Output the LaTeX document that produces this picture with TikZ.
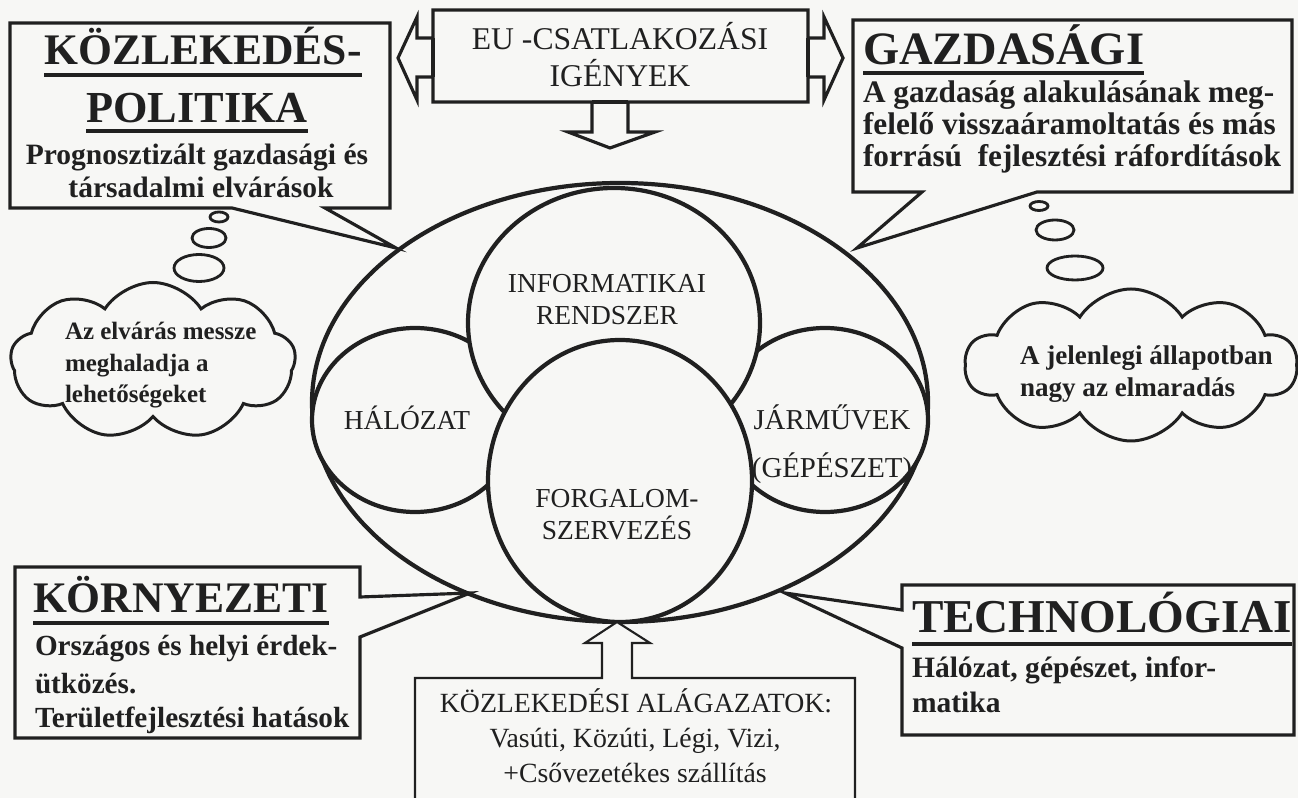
\documentclass[tikz,border=0pt]{standalone}
\usepackage{fontspec}
\setmainfont{Liberation Serif}
\usetikzlibrary{shapes.geometric,shapes.symbols,calc}
\newlength\px
\setlength\px{0.01cm}
\newcommand\fs[1]{\fontsize{#1}{#1}\selectfont}
\definecolor{paper}{RGB}{247,247,245}
\definecolor{ink}{RGB}{32,32,32}
\begin{document}
\begin{tikzpicture}[x=0.01cm, y=-0.01cm,
  lbl/.style={inner sep=0pt, outer sep=0pt, text=ink},
  boxline/.style={draw=ink, line width=0.9pt, line join=miter, fill=paper},
  thinline/.style={draw=ink, line width=0.6pt, line join=miter, fill=paper},
  ring/.style={draw=ink, line width=1.2pt, fill=paper, ellipse, inner sep=0pt},
  bubble/.style={draw=ink, line width=0.8pt, ellipse, inner sep=0pt},
  uline/.style={draw=ink, line width=0.9pt},
  title/.style={lbl, font={\bfseries\fs{12.4}}},
  sub/.style={lbl, font={\bfseries\fs{8.4}}},
  mid/.style={lbl, font={\fs{7.8}}},
]
\fill[paper] (0,0) rectangle (1298,798);
\path[use as bounding box] (0,0) rectangle (1298,798);

% ---------- central ellipse and the four overlapping circles ----------
\node[ring, minimum width=616\px, minimum height=439\px] (ell) at (620,402.5) {};
\node[ring, minimum width=206\px, minimum height=184\px] (hal) at (415,420) {};
\node[ring, minimum width=206\px, minimum height=184\px] (jar) at (825,420) {};
\node[ring, minimum width=292\px, minimum height=270\px] (inf) at (614,323) {};
\node[ring, minimum width=264\px, minimum height=282\px] (forg) at (620,481) {};

\node[mid, anchor=base] (infA) at (607,293) {INFORMATIKAI};
\node[mid, anchor=base] (infB) at (607,325) {RENDSZER};
\node[mid, anchor=base] (halA) at (407,430) {HÁLÓZAT};
\node[mid, anchor=base, font={\fs{8.2}}] (jarA) at (832,430) {JÁRMŰVEK};
\node[mid, anchor=base, font={\fs{8.2}}] (jarB) at (832,478) {(GÉPÉSZET)};
\node[mid, anchor=base] (forA) at (617,508) {FORGALOM-};
\node[mid, anchor=base] (forB) at (617,540) {SZERVEZÉS};

% ---------- tips of the speech tails on the ellipse ----------
\coordinate (tipKP) at (396,248);
\coordinate (tipGZ) at (857,248);
\coordinate (tipKR) at (470,593);
\coordinate (tipTE) at (785,593);

% ---------- KÖZLEKEDÉSPOLITIKA ----------
\draw[boxline] (10,23) -- (390,23) -- (390,208) -- (325,208) -- (tipKP)
  -- (232,208) -- (10,208) -- cycle;
\node[title, anchor=base] (kpT1) at (203,65) {KÖZLEKEDÉS-};
\draw[uline] ($(kpT1.base west)+(0,10)$) -- ($(kpT1.base east)+(0,10)$);
\node[title, anchor=base, font={\bfseries\fs{12.6}}] (kpT2) at (197,123) {POLITIKA};
\draw[uline] ($(kpT2.base west)+(0,8)$) -- ($(kpT2.base east)+(0,8)$);
\node[sub, anchor=base] (kpS1) at (197,165) {Prognosztizált gazdasági és};
\node[sub, anchor=base] (kpS2) at (201,198) {társadalmi elvárások};

% ---------- GAZDASÁGI ----------
\draw[boxline] (853,20) -- (1292,20) -- (1292,192) -- (1037,192) -- (tipGZ)
  -- (922,192) -- (853,192) -- cycle;
\node[title, anchor=base west, font={\bfseries\fs{13.2}}] (gzT) at (863,65) {GAZDASÁGI};
\draw[uline] ($(gzT.base west)+(0,8)$) -- ($(gzT.base east)+(0,8)$);
\node[sub, anchor=base west, font={\bfseries\fs{8.9}}] (gzS1) at (863,103) {A gazdaság alakulásának meg-};
\node[sub, anchor=base west, font={\bfseries\fs{8.9}}] (gzS2) at (863,135) {felelő visszaáramoltatás és más};
\node[sub, anchor=base west, font={\bfseries\fs{8.9}}] (gzS3) at (863,167) {forrású\ \ fejlesztési ráfordítások};

% ---------- KÖRNYEZETI ----------
\draw[boxline] (15,567) -- (360,567) -- (360,597) -- (tipKR) -- (360,637)
  -- (360,738) -- (15,738) -- cycle;
\node[title, anchor=base west] (krT) at (33,613) {KÖRNYEZETI};
\draw[uline] ($(krT.base west)+(0,10)$) -- ($(krT.base east)+(0,10)$);
\node[sub, anchor=base west, font={\bfseries\fs{8.3}}] (krS1) at (35,655) {Országos és helyi érdek-};
\node[sub, anchor=base west, font={\bfseries\fs{8.3}}] (krS2) at (35,693) {ütközés.};
\node[sub, anchor=base west, font={\bfseries\fs{8.3}}] (krS3) at (35,727) {Területfejlesztési hatások};

% ---------- TECHNOLÓGIAI ----------
\draw[boxline] (902,585) -- (1294,585) -- (1294,735) -- (902,735) -- (902,648)
  -- (tipTE) -- (902,610) -- cycle;
\node[title, anchor=base west, font={\bfseries\fs{13.4}}] (teT) at (912,632) {TECHNOLÓGIAI};
\draw[uline] ($(teT.base west)+(0,12)$) -- ($(teT.base east)+(0,12)$);
\node[sub, anchor=base west] (teS1) at (912,677) {Hálózat, gépészet, infor-};
\node[sub, anchor=base west] (teS2) at (912,712) {matika};

% ---------- EU box with its three hollow arrows ----------
\draw[boxline] (398,58) -- (417,17) -- (417,38) -- (433,38) -- (433,10) -- (808,10)
  -- (808,38) -- (824,38) -- (824,17) -- (843,58) -- (824,100) -- (824,77)
  -- (808,77) -- (808,102) -- (628,102) -- (628,132) -- (655,132) -- (610,148)
  -- (568,132) -- (592,132) -- (592,102) -- (433,102) -- (433,77) -- (417,77)
  -- (417,100) -- cycle;
\draw[boxline, fill=none] (433,38) -- (433,77) (808,38) -- (808,77) (592,102) -- (628,102);
\node[lbl, anchor=base, font={\fs{9}}] (euA) at (620,50) {EU -CSATLAKOZÁSI};
\node[lbl, anchor=base, font={\fs{9}}] (euB) at (620,87) {IGÉNYEK};

% ---------- thought clouds ----------
\node[bubble, minimum width=18\px, minimum height=10\px] (lb1) at (219,217) {};
\node[bubble, minimum width=34\px, minimum height=19\px] (lb2) at (209,238) {};
\node[bubble, minimum width=50\px, minimum height=27\px] (lb3) at (199,268) {};
\node[cloud, draw=ink, fill=paper, line width=0.85pt, cloud puffs=9,
  cloud puff arc=115, aspect=1.8, minimum width=285\px, minimum height=157\px,
  inner sep=0pt] (clL) at (153,361) {};
\node[sub, anchor=base west, font={\bfseries\fs{7.1}}] (clL1) at (65,340) {Az elvárás messze};
\node[sub, anchor=base west, font={\bfseries\fs{7.1}}] (clL2) at (65,372) {meghaladja a};
\node[sub, anchor=base west, font={\bfseries\fs{7.1}}] (clL3) at (65,403) {lehetőségeket};

\node[bubble, minimum width=18\px, minimum height=9\px] (rb1) at (1039,206) {};
\node[bubble, minimum width=38\px, minimum height=20\px] (rb2) at (1055,230) {};
\node[bubble, minimum width=56\px, minimum height=24\px] (rb3) at (1075,268) {};
\node[cloud, draw=ink, fill=paper, line width=0.85pt, cloud puffs=10,
  cloud puff arc=115, aspect=2.2, minimum width=332\px, minimum height=152\px,
  inner sep=0pt] (clR) at (1131,365) {};
\node[sub, anchor=base west, font={\bfseries\fs{7.7}}] (clR1) at (1020,365) {A jelenlegi állapotban};
\node[sub, anchor=base west, font={\bfseries\fs{7.7}}] (clR2) at (1020,397) {nagy az elmaradás};

% ---------- transport sectors box with its arrow ----------
\draw[thinline] (415,815) -- (415,678) -- (602,678) -- (602,643) -- (585,643)
  -- (617,622) -- (650,643) -- (632,643) -- (632,678) -- (855,678) -- (855,815);
\node[lbl, anchor=base, font={\fs{7.9}}] (alA) at (636,712) {KÖZLEKEDÉSI ALÁGAZATOK:};
\node[lbl, anchor=base, font={\fs{7.9}}] (alB) at (635,747) {Vasúti, Közúti, Légi, Vizi,};
\node[lbl, anchor=base, font={\fs{7.9}}] (alC) at (635,782) {+Csővezetékes szállítás};
\end{tikzpicture}
\end{document}
